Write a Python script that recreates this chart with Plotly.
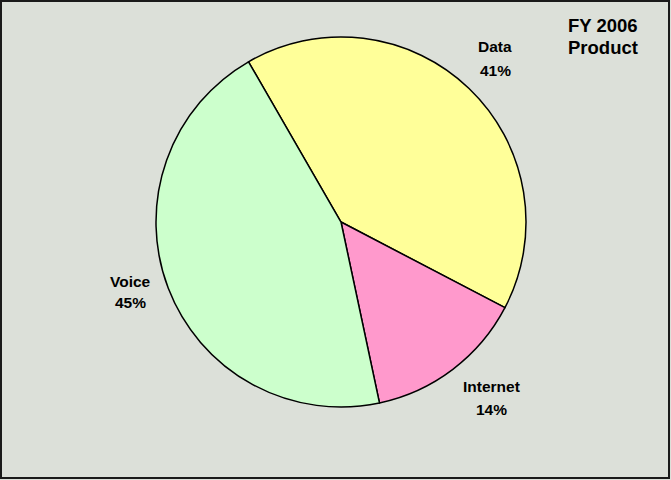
import plotly.graph_objects as go

# Revenue mix by product, FY 2006 (percent)
products = ["Data", "Internet", "Voice"]
shares = [41, 14, 45]
colors = ["#FFFF99", "#FF99CC", "#CCFFCC"]
title_lines = ["FY 2006", "Product"]

W, H = 671, 480
BG = "#DCE0D9"

fig = go.Figure(
    go.Pie(
        labels=products,
        values=shares,
        sort=False,
        direction="clockwise",
        rotation=330,
        textinfo="none",
        hoverinfo="label+percent",
        marker=dict(colors=colors, line=dict(color="#000000", width=1.5)),
        domain=dict(x=[156 / W, 526 / W], y=[1 - 407 / H, 1 - 37 / H]),
        showlegend=False,
    )
)

# label positions (pixels) for each product's name / share lines
label_pos = {
    "Data": (495, 46, 70),
    "Internet": (491, 386, 409),
    "Voice": (130, 281, 302),
}

annotations = []
for name, val in zip(products, shares):
    x, y1, y2 = label_pos[name]
    for text, y in ((name, y1), (f"{val}%", y2)):
        annotations.append(
            dict(
                x=x / W, y=1 - y / H, xref="paper", yref="paper",
                text=f"<b>{text}</b>", showarrow=False,
                xanchor="center", yanchor="middle",
                font=dict(family="Liberation Sans, Arial", size=15.5, color="#000000"),
            )
        )

for text, y in zip(title_lines, (25, 48)):
    annotations.append(
        dict(
            x=603 / W, y=1 - y / H, xref="paper", yref="paper",
            text=f"<b>{text}</b>", showarrow=False,
            xanchor="center", yanchor="middle",
            font=dict(family="Liberation Sans, Arial", size=18.5, color="#000000"),
        )
    )

fig.update_layout(
    width=W,
    height=H,
    margin=dict(l=0, r=0, t=0, b=0),
    paper_bgcolor=BG,
    plot_bgcolor=BG,
    annotations=annotations,
    shapes=[
        dict(
            type="rect", xref="paper", yref="paper",
            x0=1 / W, x1=669 / W, y0=1 - 478 / H, y1=1 - 1 / H,
            line=dict(color="#1A1A1A", width=2), fillcolor="rgba(0,0,0,0)",
        )
    ],
)

fig.write_html("out.html")
